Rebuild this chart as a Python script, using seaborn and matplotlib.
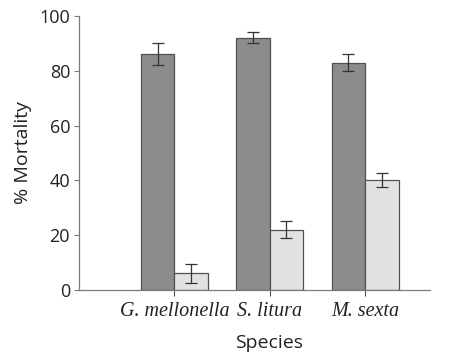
import matplotlib
matplotlib.use("Agg")
import matplotlib.pyplot as plt
import seaborn as sns
import pandas as pd
import numpy as np

species = ["G. mellonella", "S. litura", "M. sexta"]
groups = ["Treated", "Control"]
treated = [86, 92, 83]
control = [6, 22, 40]
treated_err = [4, 2, 3]
control_err = [3.5, 3, 2.5]

rows = []
for i, s in enumerate(species):
    rows.append({"Species": s, "Group": groups[0], "Mortality": treated[i], "err": treated_err[i]})
    rows.append({"Species": s, "Group": groups[1], "Mortality": control[i], "err": control_err[i]})
df = pd.DataFrame(rows)

sns.set_style("white")
fig = plt.figure(figsize=(4.57, 3.54), dpi=100)
ax = fig.add_axes([0.173, 0.181, 0.768, 0.774])

sns.barplot(data=df, x="Species", y="Mortality", hue="Group", hue_order=groups,
            order=species, palette=["#8c8c8c", "#e2e2e2"], width=0.7,
            edgecolor="#505050", linewidth=0.9, errorbar=None, legend=False, ax=ax)

# error bars from the patch geometry
for container, errs in zip(ax.containers, [treated_err, control_err]):
    for bar, e in zip(container, errs):
        xc = bar.get_x() + bar.get_width() / 2
        ax.errorbar(xc, bar.get_height(), yerr=e, fmt="none", ecolor="#333333",
                    elinewidth=0.9, capsize=4, capthick=0.9)

ax.set_xlim(-1.0, 2.68)
ax.set_ylim(0, 100)
ax.set_yticks([0, 20, 40, 60, 80, 100])

for side in ["top", "right"]:
    ax.spines[side].set_visible(False)
for side in ["left", "bottom"]:
    ax.spines[side].set_color("#7a7a7a")
    ax.spines[side].set_linewidth(0.9)

ax.tick_params(axis="y", direction="out", length=3.5, width=0.8, color="#7a7a7a",
               labelsize=13, left=True, pad=3, labelcolor="#222222")
ax.tick_params(axis="x", direction="out", length=4, width=0.8, color="#505050",
               bottom=True, pad=5, labelcolor="#222222")
for lab in ax.get_yticklabels():
    lab.set_fontfamily("Open Sans")
for lab in ax.get_xticklabels():
    lab.set_fontfamily("Liberation Serif")
    lab.set_fontstyle("italic")
    lab.set_fontsize(14.5)

ax.set_ylabel("% Mortality", fontsize=14, fontfamily="Open Sans", labelpad=5, color="#222222")
ax.set_xlabel("Species", fontsize=14, fontfamily="Open Sans", color="#222222")
ax.xaxis.set_label_coords(0.541, -0.16)

fig.savefig("out.png", dpi=100)
